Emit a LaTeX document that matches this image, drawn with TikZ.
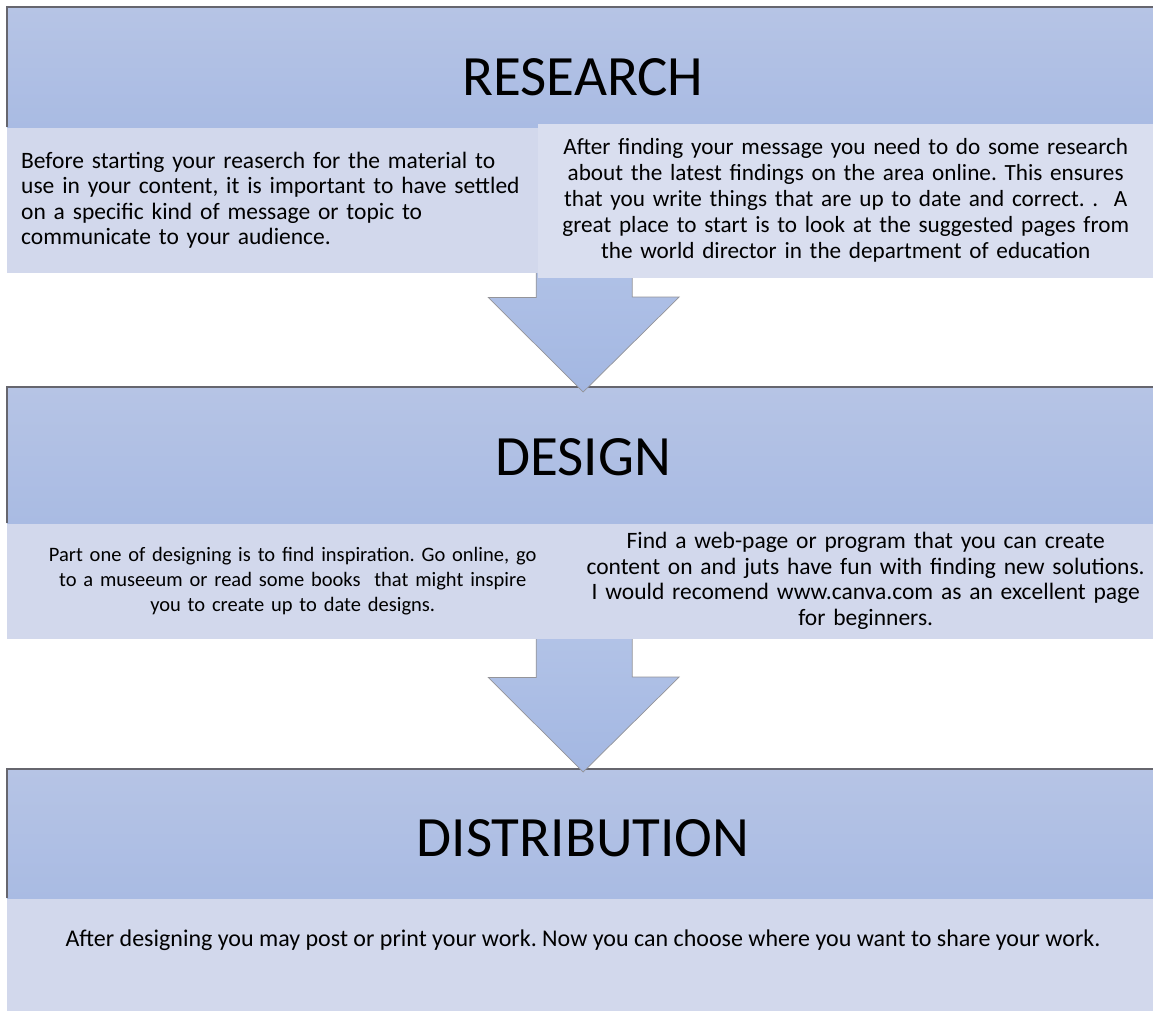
\documentclass[tikz,border=0pt]{standalone}
\usepackage{fontspec}
\setmainfont{Carlito}
\usetikzlibrary{calc}
\definecolor{bandtop}{HTML}{B6C4E5}
\definecolor{bandbot}{HTML}{A9BBE3}
\definecolor{boxfill}{HTML}{D2D8EC}
\definecolor{arrowfill}{HTML}{A3B7E2}
\definecolor{edgegray}{HTML}{66666E}
\tikzset{
  band/.style={anchor=north west,inner sep=0pt,minimum width=1146pt,top color=bandtop,bottom color=bandbot},
  headtitle/.style={inner sep=0pt,font=\fontsize{57}{60}\selectfont},
  textbox/.style={anchor=north west,fill=boxfill,inner sep=0pt,font=\fontsize{23.5}{25.5}\selectfont},
  blockarrow/.style={top color=arrowfill!75!white,bottom color=arrowfill,draw=edgegray!70,line width=0.7pt},
  bandedge/.style={draw=edgegray,line width=1.2pt}
}
\frenchspacing

\begin{document}
\begin{tikzpicture}[x=1pt,y=-1pt]
\useasboundingbox (0,0) rectangle (1153,1011);
\fill[white] (0,0) rectangle (1153,1011);

\node[band,minimum height=120pt] (reshead) at (7,7) {};
\node[band,minimum height=136pt] (deshead) at (7,387) {};
\node[band,minimum height=129pt] (disthead) at (7,769) {};
\draw[bandedge] (reshead.south west) -- (reshead.north west) -- (reshead.north east);
\draw[bandedge] (deshead.south west) -- (deshead.north west) -- (deshead.north east);
\draw[bandedge] (disthead.south west) -- (disthead.north west) -- (disthead.north east);

\node[headtitle] (restitle) at (583,77) {RESEARCH};
\node[headtitle] (destitle) at (583,457) {DESIGN};
\node[headtitle] (disttitle) at (583,838) {DISTRIBUTION};

\draw[blockarrow] ($(reshead.south)+(-44,40)$) -- ++(0,130) -- ++(-48,0)
  -- ($(deshead.north)+(3,5)$) -- ++(96,-95) -- ++(-47,0) -- ++(0,-130) -- cycle;
\draw[blockarrow] ($(deshead.south)+(-44,40)$) -- ++(0,114) -- ++(-48,0)
  -- ($(disthead.north)+(3,3)$) -- ++(96,-95) -- ++(-47,0) -- ++(0,-114) -- cycle;

\node[textbox,minimum height=145pt,text width=503pt,inner xsep=14pt,align=left] (resleft) at (reshead.south west)
  {Before starting your reaserch for the material to\\
   use in your content, it is important to have settled\\
   on a specific kind of message or topic to\\
   communicate to your audience.};
\node[textbox,fill=boxfill!85!white,minimum height=154pt,text width=615pt,align=center,font=\fontsize{23.2}{26}\selectfont] (resright) at ($(reshead.south west)+(531,-4)$)
  {After finding your message you need to do some research\\
   about the latest findings on the area online. This ensures\\
   that you write things that are up to date and correct. .\ \ A\\
   great place to start is to look at the suggested pages from\\
   the world director in the department of education};

\node[textbox,minimum height=115pt,text width=571pt,align=center,font=\fontsize{20.5}{25}\selectfont] (desleft) at (deshead.south west)
  {Part one of designing is to find inspiration. Go online, go\\
   to a museeum or read some books\ \ that might inspire\\
   you to create up to date designs.};
\node[textbox,minimum height=115pt,text width=575pt,align=center] (desright) at ($(deshead.south west)+(571,0)$)
  {Find a web-page or program that you can create\\
   content on and juts have fun with finding new solutions.\\
   I would recomend www.canva.com as an excellent page\\
   for beginners.};

\node[textbox,minimum height=113pt,text width=1146pt] (distbox) at (disthead.south west) {};
\node[inner sep=0pt,font=\fontsize{24}{26}\selectfont] (disttext) at (583,940)
  {After designing you may post or print your work. Now you can choose where you want to share your work.};
\end{tikzpicture}
\end{document}
